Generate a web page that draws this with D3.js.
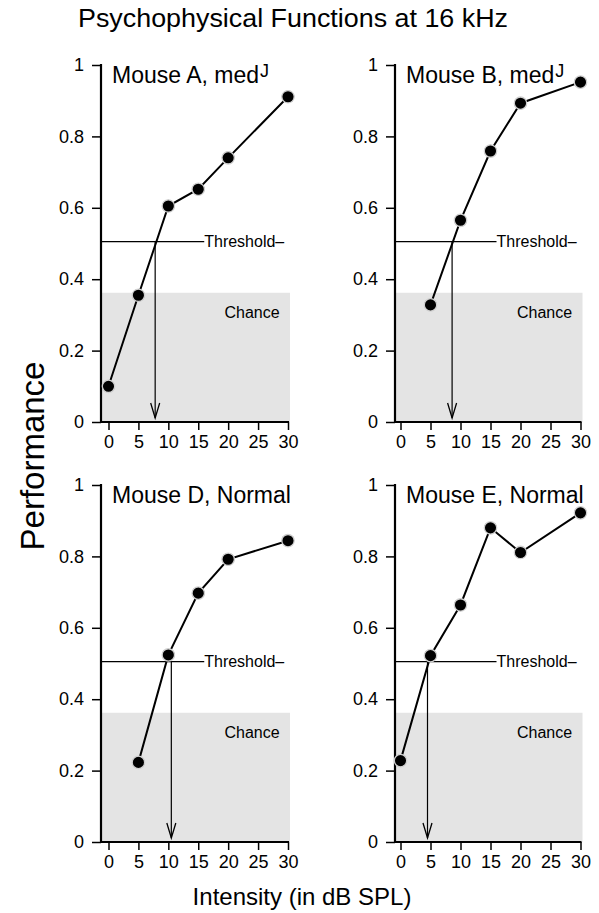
<!DOCTYPE html>
<html>
<head>
<meta charset="utf-8">
<script src="https://cdn.jsdelivr.net/npm/d3@7/dist/d3.min.js"></script>
<style>
  html, body { margin: 0; padding: 0; background: #fff; }
  svg { display: block; }
  text { font-family: "Liberation Sans", Arial, Helvetica, sans-serif; fill: #000; }
</style>
</head>
<body>
<svg id="chart" width="599" height="913"></svg>
<script>
// ---- Data ----
const chartTitle = "Psychophysical Functions at 16 kHz";
const xAxisTitle = "Intensity (in dB SPL)";
const yAxisTitle = "Performance";
const panelNames = ["Mouse A, med", "Mouse B, med", "Mouse D, Normal", "Mouse E, Normal"];
const panelSuperscripts = ["J", "J", "", ""];
const intensityA = [0, 5, 10, 15, 20, 30];
const performanceA = [0.100, 0.355, 0.605, 0.652, 0.740, 0.911];
const intensityB = [5, 10, 15, 20, 30];
const performanceB = [0.328, 0.565, 0.759, 0.893, 0.952];
const intensityD = [5, 10, 15, 20, 30];
const performanceD = [0.223, 0.524, 0.697, 0.792, 0.844];
const intensityE = [0, 5, 10, 15, 20, 30];
const performanceE = [0.228, 0.522, 0.664, 0.880, 0.811, 0.922];
const thresholdIntensity = [7.8, 8.6, 10.5, 4.5];
const thresholdLevel = 0.505;
const chanceLevel = 0.362;
const xTicks = [0, 5, 10, 15, 20, 25, 30];
const yTicks = [0, 0.2, 0.4, 0.6, 0.8, 1];
const thresholdLabel = "Threshold\u2013";
const chanceLabel = "Chance";

const xSeries = [intensityA, intensityB, intensityD, intensityE];
const ySeries = [performanceA, performanceB, performanceD, performanceE];

// ---- Layout ----
const svg = d3.select("#chart");
const cols = [
  { axisX: 101, x0: 108.5, x30: 288 },
  { axisX: 395, x0: 400.5, x30: 580.5 }
];
const rows = [
  { yTop: 65, yBot: 422 },
  { yTop: 485, yBot: 842 }
];
const fontTick = 18;

svg.append("text")
  .attr("x", 293).attr("y", 27)
  .attr("text-anchor", "middle")
  .attr("font-size", 25)
  .attr("textLength", 430).attr("lengthAdjust", "spacingAndGlyphs")
  .text(chartTitle);

svg.append("text")
  .attr("x", 302).attr("y", 905)
  .attr("text-anchor", "middle")
  .attr("font-size", 24)
  .text(xAxisTitle);

svg.append("text")
  .attr("transform", "translate(44,456) rotate(-90)")
  .attr("text-anchor", "middle")
  .attr("font-size", 33)
  .text(yAxisTitle);

for (let p = 0; p < 4; p++) {
  const c = cols[p % 2], r = rows[Math.floor(p / 2)];
  const x = d3.scaleLinear().domain([0, 30]).range([c.x0, c.x30]);
  const y = d3.scaleLinear().domain([0, 1]).range([r.yBot, r.yTop]);
  const g = svg.append("g");

  // chance region
  g.append("rect")
    .attr("x", c.axisX)
    .attr("y", y(chanceLevel))
    .attr("width", x(30) + 2 - c.axisX)
    .attr("height", y(0) - y(chanceLevel))
    .attr("fill", "#e4e4e4");

  g.append("text")
    .attr("x", x(28.6)).attr("y", y(0.29))
    .attr("text-anchor", "end")
    .attr("font-size", 16)
    .text(chanceLabel);

  // threshold line
  g.append("line")
    .attr("x1", c.axisX).attr("x2", x(16))
    .attr("y1", y(thresholdLevel)).attr("y2", y(thresholdLevel))
    .attr("stroke", "#000").attr("stroke-width", 1.2);
  g.append("text")
    .attr("x", x(16)).attr("y", y(thresholdLevel))
    .attr("dy", "0.35em")
    .attr("font-size", 16)
    .text(thresholdLabel);

  // arrow
  const ax = x(thresholdIntensity[p]);
  g.append("line")
    .attr("x1", ax).attr("x2", ax)
    .attr("y1", y(thresholdLevel)).attr("y2", y(0) - 4)
    .attr("stroke", "#000").attr("stroke-width", 1.2);
  g.append("path")
    .attr("d", `M${ax - 4.5},${y(0) - 19}L${ax},${y(0) - 4}L${ax + 4.5},${y(0) - 19}`)
    .attr("fill", "none").attr("stroke", "#000").attr("stroke-width", 1.3);

  // axes
  const yAxis = d3.axisLeft(y).tickValues(yTicks).tickSize(9).tickPadding(8)
    .tickFormat(d => d === 0 ? "0" : d === 1 ? "1" : d3.format(".1f")(d));
  const ya = g.append("g").attr("transform", `translate(${c.axisX},0)`).call(yAxis);
  ya.select(".domain").remove();
  ya.selectAll(".tick line").attr("stroke", "#000").attr("stroke-width", 1.5);
  ya.selectAll(".tick text").attr("font-size", fontTick)
    .attr("font-family", '"Liberation Sans", Arial, sans-serif');
  g.append("line")
    .attr("x1", c.axisX).attr("x2", c.axisX)
    .attr("y1", y(1) - 1).attr("y2", y(0) + 1)
    .attr("stroke", "#000").attr("stroke-width", 2.2);

  const xAxis = d3.axisBottom(x).tickValues(xTicks).tickSize(8).tickPadding(5);
  const xa = g.append("g").attr("transform", `translate(0,${r.yBot})`).call(xAxis);
  xa.select(".domain").remove();
  xa.selectAll(".tick line").attr("stroke", "#000").attr("stroke-width", 1.5);
  xa.selectAll(".tick text").attr("font-size", fontTick)
    .attr("font-family", '"Liberation Sans", Arial, sans-serif');
  g.append("line")
    .attr("x1", c.axisX - 1).attr("x2", x(30) + 1)
    .attr("y1", y(0)).attr("y2", y(0))
    .attr("stroke", "#000").attr("stroke-width", 2.2);

  // data line + points
  const pts = xSeries[p].map((v, i) => [v, ySeries[p][i]]);
  g.append("path")
    .datum(pts)
    .attr("d", d3.line().x(d => x(d[0])).y(d => y(d[1])))
    .attr("fill", "none").attr("stroke", "#000").attr("stroke-width", 2);
  g.selectAll("circle").data(pts).join("circle")
    .attr("cx", d => x(d[0])).attr("cy", d => y(d[1]))
    .attr("r", 6.2)
    .attr("fill", "#000").attr("stroke", "#d0d0d0").attr("stroke-width", 1.3);

  // panel title
  const t = g.append("text")
    .attr("x", c.axisX + 11).attr("y", r.yTop + 18)
    .attr("font-size", 23)
    .text(panelNames[p]);
  if (panelSuperscripts[p]) {
    t.append("tspan").attr("dx", 1).attr("dy", -6).attr("font-size", 18).text(panelSuperscripts[p]);
  }
}
</script>
</body>
</html>
